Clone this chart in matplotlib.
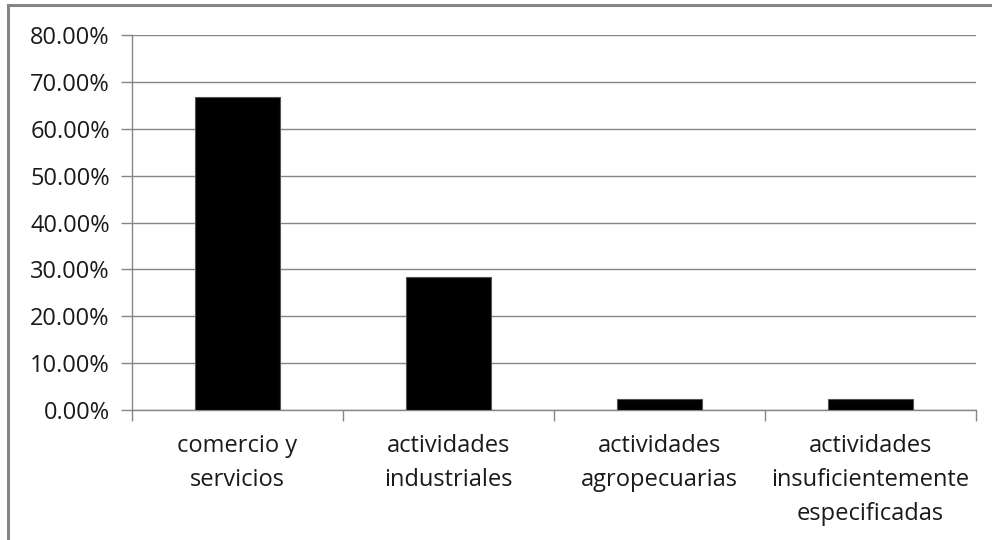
import matplotlib
matplotlib.use("Agg")
import matplotlib.pyplot as plt
from matplotlib.patches import Rectangle
from matplotlib.ticker import FuncFormatter, FixedLocator

categories = ["comercio y\nservicios", "actividades\nindustriales",
              "actividades\nagropecuarias",
              "actividades\ninsuficientemente\nespecificadas"]
values = [66.7, 28.3, 2.3, 2.3]
yticks = [0, 10, 20, 30, 40, 50, 60, 70, 80]

plt.rcParams['font.family'] = ['Open Sans', 'DejaVu Sans']

fig = plt.figure(figsize=(9.92, 5.40), dpi=100)
ax = fig.add_axes([132/992, 1-410/540, (976-132)/992, (410-35)/540])

grey = "#868686"
x = list(range(len(categories)))
ax.bar(x, values, width=0.4, color="black", edgecolor="#555555", linewidth=0.8, zorder=3)

ax.set_xlim(-0.5, len(categories)-0.5)
ax.set_ylim(0, 80)
ax.set_yticks(yticks)
ax.yaxis.set_major_formatter(FuncFormatter(lambda v, p: f"{v:.2f}%"))
ax.yaxis.grid(True, color=grey, linewidth=1.0, zorder=0)
ax.set_axisbelow(True)

ax.xaxis.set_major_locator(FixedLocator([i - 0.5 for i in range(len(categories)+1)]))
ax.xaxis.set_major_formatter(FuncFormatter(lambda v, p: ""))
ax.xaxis.set_minor_locator(FixedLocator(x))
ax.set_xticklabels(categories, minor=True)
ax.tick_params(axis='x', which='major', direction='out', length=8, color=grey, width=1)
ax.tick_params(axis='x', which='minor', length=0, pad=17.5, labelsize=17, colors="#1a1a1a")
for lab in ax.get_xticklabels(minor=True):
    lab.set_linespacing(1.55)
ax.tick_params(axis='y', direction='out', length=8, color=grey, width=1, labelsize=17,
               pad=8, labelcolor="#1a1a1a")

for s in ['top', 'right']:
    ax.spines[s].set_visible(False)
for s in ['left', 'bottom']:
    ax.spines[s].set_color(grey)
    ax.spines[s].set_linewidth(1.0)

fig.patches.append(Rectangle((8/992, -0.1), 1.2, 1 - 5/540 + 0.1, transform=fig.transFigure,
                             fill=False, edgecolor=grey, linewidth=2.2))

fig.savefig("out.png", dpi=100)
